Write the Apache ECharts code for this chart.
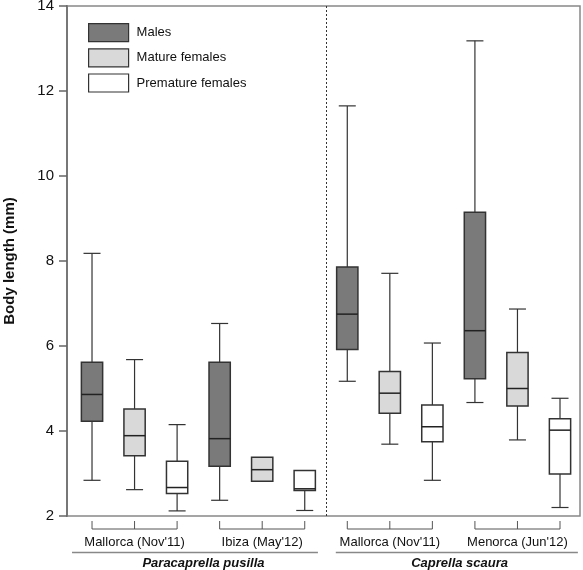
<!DOCTYPE html>
<html>
<head>
<meta charset="utf-8">
<script src="https://cdn.jsdelivr.net/npm/echarts@6/dist/echarts.min.js"></script>
<style>html,body{margin:0;padding:0;background:#fff}#c{width:583px;height:570px}</style>
</head>
<body>
<div id="c"></div>
<script>
// ---- data ----
const seriesNames = ['Males', 'Mature females', 'Premature females'];
const sites = ["Mallorca (Nov'11)", "Ibiza (May'12)", "Mallorca (Nov'11)", "Menorca (Jun'12)"];
const species = ['Paracaprella pusilla', 'Caprella scaura'];
const yTicks = [2, 4, 6, 8, 10, 12, 14];
// [position, min, Q1, median, Q3, max]
const males = [
  [1, 2.84, 4.23, 4.86, 5.62, 8.18],
  [4, 2.37, 3.17, 3.82, 5.62, 6.53],
  [7, 5.17, 5.92, 6.75, 7.86, 11.65],
  [10, 4.67, 5.23, 6.36, 9.15, 13.18]
];
const matureFemales = [
  [2, 2.62, 3.42, 3.89, 4.52, 5.68],
  [5, 2.82, 2.82, 3.09, 3.38, 3.38],
  [8, 3.69, 4.42, 4.89, 5.40, 7.71],
  [11, 3.79, 4.59, 5.00, 5.85, 6.87]
];
const prematureFemales = [
  [3, 2.12, 2.53, 2.67, 3.29, 4.15],
  [6, 2.13, 2.60, 2.64, 3.07, 3.07],
  [9, 2.84, 3.75, 4.10, 4.61, 6.07],
  [12, 2.20, 2.99, 4.02, 4.29, 4.77]
];
// site brackets: [first box, last box]
const siteSpans = [[1, 3], [4, 6], [7, 9], [10, 12]];
// species underline spans and label centre
const speciesSpans = [[0.53, 6.31, 3.62], [6.73, 12.42, 9.64]];
const divider = 6.5;

// ---- style ----
const fills = ['#7a7a7a', '#d9d9d9', '#ffffff'];
const stroke = '#333333';
const FONT = '"Liberation Sans", Arial, Helvetica, sans-serif';

function boxRenderer(fill) {
  return function (params, api) {
    const x = api.value(0);
    const mn = api.value(1), q1 = api.value(2), md = api.value(3), q3 = api.value(4), mx = api.value(5);
    const hw = 0.25, cw = 0.2;
    const p = (a, b) => api.coord([a, b]);
    const tl = p(x - hw, q3), br = p(x + hw, q1);
    const ls = { stroke: stroke, lineWidth: 1.2 };
    const children = [];
    if (mx > q3) {
      const a = p(x, q3), b = p(x, mx), c1 = p(x - cw, mx), c2 = p(x + cw, mx);
      children.push({ type: 'line', shape: { x1: a[0], y1: a[1], x2: b[0], y2: b[1] }, style: ls });
      children.push({ type: 'line', shape: { x1: c1[0], y1: c1[1], x2: c2[0], y2: c2[1] }, style: ls });
    }
    if (mn < q1) {
      const a = p(x, q1), b = p(x, mn), c1 = p(x - cw, mn), c2 = p(x + cw, mn);
      children.push({ type: 'line', shape: { x1: a[0], y1: a[1], x2: b[0], y2: b[1] }, style: ls });
      children.push({ type: 'line', shape: { x1: c1[0], y1: c1[1], x2: c2[0], y2: c2[1] }, style: ls });
    }
    children.push({ type: 'rect', shape: { x: tl[0], y: tl[1], width: br[0] - tl[0], height: br[1] - tl[1] },
      style: { fill: fill, stroke: stroke, lineWidth: 1.5 } });
    const m1 = p(x - hw, md), m2 = p(x + hw, md);
    children.push({ type: 'line', shape: { x1: m1[0], y1: m1[1], x2: m2[0], y2: m2[1] }, style: { stroke: '#222', lineWidth: 1.5 } });
    return { type: 'group', children: children };
  };
}

function bracketRenderer(params, api) {
  const cs = params.coordSys;
  const bottom = cs.y + cs.height;
  const a = api.value(0), b = api.value(1);
  const xa = api.coord([a, 2])[0], xb = api.coord([b, 2])[0], xm = api.coord([(a + b) / 2, 2])[0];
  const yTop = bottom + 5, yBar = bottom + 13;
  const st = { stroke: '#555', lineWidth: 1 };
  return { type: 'group', children: [
    { type: 'line', shape: { x1: xa, y1: yBar, x2: xb, y2: yBar }, style: st },
    { type: 'line', shape: { x1: xa, y1: yTop, x2: xa, y2: yBar }, style: st },
    { type: 'line', shape: { x1: xm, y1: yTop, x2: xm, y2: yBar }, style: st },
    { type: 'line', shape: { x1: xb, y1: yTop, x2: xb, y2: yBar }, style: st },
    { type: 'text', style: { x: xm, y: bottom + 26, text: sites[params.dataIndex], fill: '#111',
      font: '13px ' + FONT, textAlign: 'center', textVerticalAlign: 'middle' } }
  ] };
}

function speciesRenderer(params, api) {
  const cs = params.coordSys;
  const bottom = cs.y + cs.height;
  const xa = api.coord([api.value(0), 2])[0], xb = api.coord([api.value(1), 2])[0], xc = api.coord([api.value(2), 2])[0];
  return { type: 'group', children: [
    { type: 'line', shape: { x1: xa, y1: bottom + 36.5, x2: xb, y2: bottom + 36.5 }, style: { stroke: '#888', lineWidth: 1.5 } },
    { type: 'text', style: { x: xc, y: bottom + 47, text: species[params.dataIndex], fill: '#111',
      font: 'italic bold 13px ' + FONT, textAlign: 'center', textVerticalAlign: 'middle' } }
  ] };
}

const chart = echarts.init(document.getElementById('c'), null, { renderer: 'canvas' });
const boxData = [males, matureFemales, prematureFemales];

const option = {
  animation: false,
  backgroundColor: '#fff',
  grid: { left: 67, right: 3, top: 6, bottom: 54, containLabel: false, outerBoundsMode: 'none',
    show: true, borderColor: '#888', borderWidth: 1.5, backgroundColor: 'transparent' },
  legend: {
    orient: 'vertical', left: 88, top: 23, padding: 0, itemWidth: 40, itemHeight: 18, itemGap: 6,
    icon: 'rect',
    textStyle: { fontFamily: FONT, fontSize: 13, color: '#111', padding: [0, 0, 0, 3] },
    data: seriesNames.map((n, i) => ({ name: n, itemStyle: { color: fills[i], borderColor: stroke, borderWidth: 1.2 } }))
  },
  xAxis: { type: 'value', min: 0.412, max: 12.47, show: false },
  yAxis: {
    type: 'value', min: yTicks[0], max: yTicks[yTicks.length - 1], interval: 2,
    name: 'Body length (mm)', nameLocation: 'middle', nameGap: 50,
    nameTextStyle: { fontFamily: FONT, fontSize: 15, fontWeight: 'bold', color: '#111' },
    axisLine: { show: true, lineStyle: { color: '#777', width: 2 } },
    axisTick: { show: true, length: 8, lineStyle: { color: '#666', width: 1.5 } },
    axisLabel: { fontFamily: FONT, fontSize: 15, color: '#111', margin: 13 },
    splitLine: { show: false }
  },
  series: [
    ...seriesNames.map((n, i) => ({
      name: n, type: 'custom', renderItem: boxRenderer(fills[i]),
      itemStyle: { color: fills[i], borderColor: stroke },
      encode: { x: 0, y: [1, 2, 3, 4, 5] },
      data: boxData[i], z: 3,
      markLine: i === 0 ? { silent: true, symbol: 'none', label: { show: false },
        lineStyle: { color: '#333', type: [2, 2], width: 1 }, data: [{ xAxis: divider }] } : undefined
    })),
    { type: 'custom', renderItem: bracketRenderer, clip: false, silent: true,
      encode: { x: [0, 1] }, data: siteSpans },
    { type: 'custom', renderItem: speciesRenderer, clip: false, silent: true,
      encode: { x: [0, 1] }, data: speciesSpans }
  ]
};
chart.setOption(option);
</script>
</body>
</html>
